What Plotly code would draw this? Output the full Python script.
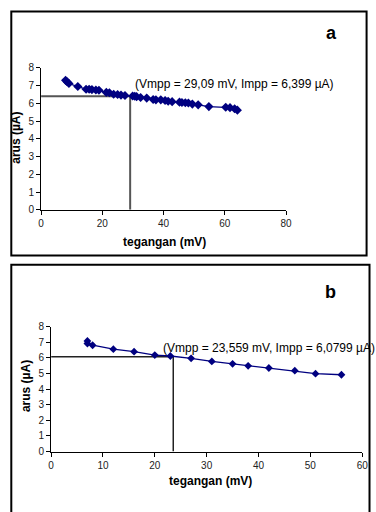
import plotly.graph_objects as go

W, H = 376, 512

# ---- data: chart a ----
a_v = [8.0, 8.5, 9.1, 12.0, 14.7, 15.7, 16.6, 17.9, 18.9, 21.3, 22.3, 23.7, 25.0, 26.1, 27.4,
       29.9, 30.6, 31.2, 32.5, 34.5, 36.6, 37.5, 39.1, 40.5, 41.5, 42.8, 45.2, 46.0, 47.1,
       48.1, 49.4, 51.3, 54.8, 60.3, 61.7, 63.2, 64.1]
a_i = [7.30, 7.22, 7.12, 6.95, 6.80, 6.80, 6.78, 6.76, 6.74, 6.62, 6.60, 6.52, 6.50, 6.47, 6.45,
       6.42, 6.40, 6.38, 6.33, 6.30, 6.22, 6.20, 6.20, 6.16, 6.12, 6.10, 6.07, 6.05, 6.04,
       6.02, 5.96, 5.92, 5.82, 5.78, 5.76, 5.70, 5.62]
a_vmpp, a_impp = 29.09, 6.399

# ---- data: chart b ----
b_v = [7, 7, 8, 12, 16, 20, 23, 27, 31, 35, 38, 42, 47, 51, 56]
b_i = [7.08, 6.92, 6.81, 6.56, 6.40, 6.18, 6.12, 5.97, 5.77, 5.62, 5.49, 5.35, 5.18, 4.99, 4.92]
b_vmpp, b_impp = 23.559, 6.0799

a_xticks = [0, 20, 40, 60, 80]
b_xticks = [0, 10, 20, 30, 40, 50, 60]
yticks = [0, 1, 2, 3, 4, 5, 6, 7, 8]

FONT = "Liberation Sans, Arial, sans-serif"
NAVY = "#000080"


def px(x):
    return x / W


def py(y):
    return 1 - y / H


fig = go.Figure()

# reference lines (drawn under data)
fig.add_trace(go.Scatter(x=[0, a_vmpp, a_vmpp], y=[a_impp, a_impp, 0], mode="lines",
                         line=dict(color="#555555", width=2), xaxis="x", yaxis="y",
                         showlegend=False, hoverinfo="skip"))
fig.add_trace(go.Scatter(x=[0, b_vmpp, b_vmpp], y=[b_impp, b_impp, 0], mode="lines",
                         line=dict(color="#222222", width=1.5), xaxis="x2", yaxis="y2",
                         showlegend=False, hoverinfo="skip"))

fig.add_trace(go.Scatter(x=a_v, y=a_i, mode="lines+markers",
                         line=dict(color=NAVY, width=1.3),
                         marker=dict(symbol="diamond", size=7, color=NAVY),
                         xaxis="x", yaxis="y", showlegend=False))
fig.add_trace(go.Scatter(x=b_v, y=b_i, mode="lines+markers",
                         line=dict(color=NAVY, width=1.3),
                         marker=dict(symbol="diamond", size=6, color=NAVY),
                         xaxis="x2", yaxis="y2", showlegend=False))

axis_common = dict(showline=True, linecolor="black", linewidth=1, ticks="outside",
                   ticklen=4, tickcolor="black", showgrid=False, zeroline=False,
                   tickfont=dict(family=FONT, size=10, color="#222222"), fixedrange=True)

fig.update_layout(
    width=W, height=H,
    margin=dict(l=0, r=0, t=0, b=0),
    paper_bgcolor="white", plot_bgcolor="white",
    showlegend=False,
    hovermode=False,
    xaxis=dict(domain=[px(39), px(290)], range=[0, 80], tickvals=a_xticks,
               anchor="y", **axis_common),
    yaxis=dict(domain=[py(208.3), py(63.3)], range=[0, 8], tickvals=yticks,
               anchor="x", **axis_common),
    xaxis2=dict(domain=[px(49.3), px(368)], range=[0, 60], tickvals=b_xticks,
                anchor="y2", **axis_common),
    yaxis2=dict(domain=[py(455.3), py(327.7)], range=[0, 8], tickvals=yticks,
                anchor="x2", **axis_common),
)

# frames
fig.add_shape(type="rect", xref="paper", yref="paper",
              x0=px(8.5), x1=px(372.5), y0=py(255), y1=py(5.5),
              line=dict(color="black", width=2))
fig.add_shape(type="rect", xref="paper", yref="paper",
              x0=px(8.5), x1=px(375.5), y0=py(540), y1=py(264.5),
              line=dict(color="black", width=2))

ann = []
# panel letters
ann.append(dict(x=px(337), y=py(28), text="<b>a</b>", font=dict(family=FONT, size=18, color="black")))
ann.append(dict(x=px(336), y=py(292), text="<b>b</b>", font=dict(family=FONT, size=18, color="black")))
# axis titles
ann.append(dict(x=px(165), y=py(241), text="<b>tegangan (mV)</b>", font=dict(family=FONT, size=12, color="black")))
ann.append(dict(x=px(13), y=py(135), text="<b>arus (µA)</b>", textangle=-90,
                font=dict(family=FONT, size=12, color="black")))
ann.append(dict(x=px(213), y=py(485), text="<b>tegangan (mV)</b>", font=dict(family=FONT, size=12, color="black")))
ann.append(dict(x=px(23), y=py(388), text="<b>arus (µA)</b>", textangle=-90,
                font=dict(family=FONT, size=12, color="black")))
# point labels
ann.append(dict(x=px(133), y=py(80), xanchor="left",
                text="(Vmpp = 29,09 mV, Impp = 6,399 µA)",
                font=dict(family=FONT, size=12, color="black")))
ann.append(dict(x=px(162), y=py(350), xanchor="left",
                text="(Vmpp = 23,559 mV, Impp = 6,0799 µA)",
                font=dict(family=FONT, size=12, color="black")))

for a in ann:
    a.setdefault("xanchor", "center")
    a.update(xref="paper", yref="paper", yanchor="middle", showarrow=False)
fig.update_layout(annotations=ann)

# remove the browser's default 8px body margin so the figure fills the window exactly
fig.write_html("out.html",
               config={"displayModeBar": False, "staticPlot": True},
               post_script="document.body.style.margin='0';document.body.style.overflow='hidden';")
